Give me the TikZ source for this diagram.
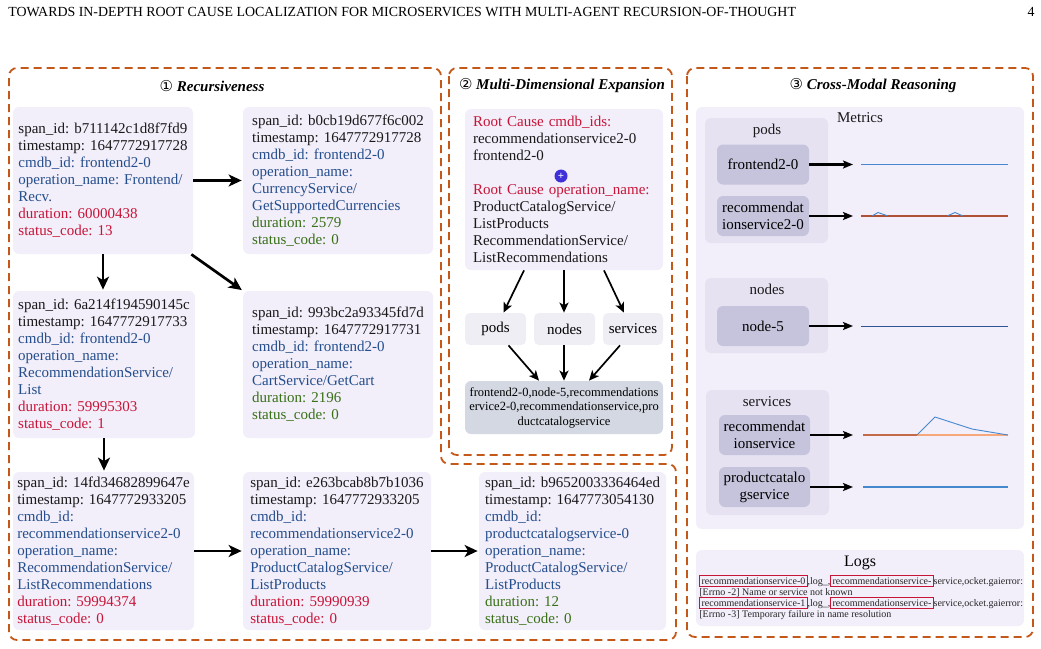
\documentclass[tikz,border=0pt]{standalone}
\usepackage{fontspec}
\setmainfont{Liberation Serif}
\newfontfamily\circfont{DejaVu Sans}
\usetikzlibrary{arrows.meta,positioning,calc}
\tikzset{every picture/.style={line width=0.75pt}}

\definecolor{boxfill}{RGB}{242,238,250}
\definecolor{panelline}{RGB}{196,88,24}
\definecolor{txtblue}{RGB}{36,78,140}
\definecolor{txtred}{RGB}{200,20,55}
\definecolor{txtgreen}{RGB}{56,112,22}
\definecolor{groupfill}{RGB}{230,226,242}
\definecolor{itemfill}{RGB}{198,196,220}
\definecolor{resultfill}{RGB}{212,216,226}
\definecolor{dimfill}{RGB}{238,238,244}
\definecolor{plusblue}{RGB}{64,48,216}
\definecolor{plotblue}{RGB}{70,136,205}
\definecolor{plotorange}{RGB}{246,168,122}
\definecolor{plotbrown}{RGB}{176,80,50}
\definecolor{plotnavy}{RGB}{46,84,150}

\newcommand{\logmark}[1]{{\color{txtred}\fboxsep=1.4pt\fboxrule=0.8pt\fbox{\color{black!85}#1}}}

\tikzset{
  panel/.style={draw=panelline, line width=1.8pt, dash pattern=on 8pt off 5pt, rounded corners=8pt},
  paneltitle/.style={font=\fontsize{15}{17}\selectfont\bfseries\itshape},
  spanbox/.style={fill=boxfill, rounded corners=6pt, align=left, inner sep=0pt,
    text=black!90, font=\fontsize{15}{17}\selectfont},
  dimbox/.style={fill=dimfill, rounded corners=5pt, minimum height=32pt, inner sep=0pt,
    font=\fontsize{15}{17}\selectfont},
  groupbox/.style={fill=groupfill, rounded corners=6pt},
  itembox/.style={fill=itemfill, rounded corners=6pt, align=center, inner sep=0pt,
    minimum width=92pt, minimum height=40pt, font=\fontsize{15}{17}\selectfont},
  label/.style={font=\fontsize{15}{17}\selectfont, text=black!90},
  spanarrow/.style={-{Stealth[length=13pt,width=12pt,inset=3.5pt]}, line width=2.7pt, shorten >=1pt},
  dimarrow/.style={-{Stealth[length=10pt,width=9pt,inset=2.5pt]}, line width=1.7pt},
  metricarrow/.style={-{Stealth[length=10pt,width=8pt,inset=2pt]}, line width=2.1pt}
}

\begin{document}
\begin{tikzpicture}[x=1pt,y=-1pt]
    \useasboundingbox (0,0) rectangle (1041,648);

    % page header
    \node[anchor=west, inner sep=0pt, font=\fontsize{13.9}{15}\selectfont] (header) at (8,12)
        {TOWARDS IN-DEPTH ROOT CAUSE LOCALIZATION FOR MICROSERVICES WITH MULTI-AGENT RECURSION-OF-THOUGHT};
    \node[inner sep=0pt, font=\fontsize{13.9}{15}\selectfont] (pagenum) at (1031,12) {4};

    % dashed panels
    \draw[panel] (9,640) -- (9,68) -- (441,68) -- (441,464) -- (676,464) -- (676,640) -- cycle;
    \draw[panel] (449,68) rectangle (672,455);
    \draw[panel] (687,68) rectangle (1033,637);

    \node[paneltitle] (title1) at (212,86) {{\circfont\mdseries\upshape ①} Recursiveness};
    \node[paneltitle] (title2) at (562,86) {{\circfont\mdseries\upshape ②} Multi-Dimensional Expansion};
    \node[paneltitle] (title3) at (873,86) {{\circfont\mdseries\upshape ③} Cross-Modal Reasoning};

    % ---- Recursiveness: spans ----
    \node[spanbox, minimum width=180pt, minimum height=147pt] (spanA) at (103,180.5) {
        span\_id: b711142c1d8f7fd9\\
        timestamp: 1647772917728\\
        \textcolor{txtblue}{cmdb\_id: frontend2-0}\\
        \textcolor{txtblue}{operation\_name: Frontend/}\\
        \textcolor{txtblue}{Recv.}\\
        \textcolor{txtred}{duration: 60000438}\\
        \textcolor{txtred}{status\_code: 13}};
    \node[spanbox, minimum width=190pt, minimum height=147pt] (spanB) at (338,180.5) {
        span\_id: b0cb19d677f6c002\\
        timestamp: 1647772917728\\
        \textcolor{txtblue}{cmdb\_id: frontend2-0}\\
        \textcolor{txtblue}{operation\_name:}\\
        \textcolor{txtblue}{CurrencyService/}\\
        \textcolor{txtblue}{GetSupportedCurrencies}\\
        \textcolor{txtgreen}{duration: 2579}\\
        \textcolor{txtgreen}{status\_code: 0}};
    \node[spanbox, minimum width=182pt, minimum height=147pt] (spanC) at (104,364.5) {
        span\_id: 6a214f194590145c\\
        timestamp: 1647772917733\\
        \textcolor{txtblue}{cmdb\_id: frontend2-0}\\
        \textcolor{txtblue}{operation\_name:}\\
        \textcolor{txtblue}{RecommendationService/}\\
        \textcolor{txtblue}{List}\\
        \textcolor{txtred}{duration: 59995303}\\
        \textcolor{txtred}{status\_code: 1}};
    \node[spanbox, minimum width=190pt, minimum height=147pt] (spanD) at (338,364.5) {
        span\_id: 993bc2a93345fd7d\\
        timestamp: 1647772917731\\
        \textcolor{txtblue}{cmdb\_id: frontend2-0}\\
        \textcolor{txtblue}{operation\_name:}\\
        \textcolor{txtblue}{CartService/GetCart}\\
        \textcolor{txtgreen}{duration: 2196}\\
        \textcolor{txtgreen}{status\_code: 0}};
    \node[spanbox, minimum width=181pt, minimum height=158pt] (spanE) at (103.5,551) {
        span\_id: 14fd34682899647e\\
        timestamp: 1647772933205\\
        \textcolor{txtblue}{cmdb\_id:}\\
        \textcolor{txtblue}{recommendationservice2-0}\\
        \textcolor{txtblue}{operation\_name:}\\
        \textcolor{txtblue}{RecommendationService/}\\
        \textcolor{txtblue}{ListRecommendations}\\
        \textcolor{txtred}{duration: 59994374}\\
        \textcolor{txtred}{status\_code: 0}};
    \node[spanbox, minimum width=188pt, minimum height=158pt] (spanF) at (337,551) {
        span\_id: e263bcab8b7b1036\\
        timestamp: 1647772933205\\
        \textcolor{txtblue}{cmdb\_id:}\\
        \textcolor{txtblue}{recommendationservice2-0}\\
        \textcolor{txtblue}{operation\_name:}\\
        \textcolor{txtblue}{ProductCatalogService/}\\
        \textcolor{txtblue}{ListProducts}\\
        \textcolor{txtred}{duration: 59990939}\\
        \textcolor{txtred}{status\_code: 0}};
    \node[spanbox, minimum width=187pt, minimum height=158pt] (spanG) at (572.5,551) {
        span\_id: b9652003336464ed\\
        timestamp: 1647773054130\\
        \textcolor{txtblue}{cmdb\_id:}\\
        \textcolor{txtblue}{productcatalogservice-0}\\
        \textcolor{txtblue}{operation\_name:}\\
        \textcolor{txtblue}{ProductCatalogService/}\\
        \textcolor{txtblue}{ListProducts}\\
        \textcolor{txtgreen}{duration: 12}\\
        \textcolor{txtgreen}{status\_code: 0}};

    \draw[spanarrow] (spanA.east) -- (spanB.west);
    \draw[spanarrow] (spanA.south) -- (spanA.south |- spanC.north);
    \draw[spanarrow] ([xshift=-2pt]spanA.south east) -- (spanD.north west);
    \draw[spanarrow] (spanC.south) -- (spanC.south |- spanE.north);
    \draw[spanarrow] (spanE.east) -- (spanF.west);
    \draw[spanarrow] (spanF.east) -- (spanG.west);

    % ---- Multi-Dimensional Expansion ----
    \node[spanbox, minimum width=198pt, minimum height=161pt, text width=182pt] (root) at (564,189.5) {
        \textcolor{txtred}{Root Cause cmdb\_ids:}\\
        recommendationservice2-0\\
        frontend2-0\\[17pt]
        \textcolor{txtred}{Root Cause operation\_name:}\\
        ProductCatalogService/\\
        ListProducts\\
        RecommendationService/\\
        ListRecommendations};
    \node[circle, fill=plusblue, minimum size=13pt, inner sep=0pt, text=white,
          font=\fontsize{11}{11}\selectfont\bfseries] (plus) at (561,176) {+};

    \node[dimbox, minimum width=61pt] (pods) at (495.5,329) {pods};
    \node[dimbox, minimum width=61pt] (nodes) at (564.5,329) {nodes};
    \node[dimbox, minimum width=60pt] (services) at (633,329) {services};
    \node[fill=resultfill, rounded corners=6pt, minimum width=198pt, minimum height=53pt, inner sep=0pt,
          align=center, font=\fontsize{12.5}{14.5}\selectfont] (result) at (564,407.5)
        {frontend2-0,node-5,recommendations\\ervice2-0,recommendationservice,pro\\ductcatalogservice};

    \draw[dimarrow] ([xshift=-40pt]root.south) -- ([xshift=8pt]pods.north);
    \draw[dimarrow] (root.south) -- (root.south |- nodes.north);
    \draw[dimarrow] ([xshift=40pt]root.south) -- ([xshift=-9pt]services.north);
    \draw[dimarrow] ([xshift=13pt]pods.south) -- ([xshift=-25pt]result.north);
    \draw[dimarrow] (nodes.south -| result.north) -- (result.north);
    \draw[dimarrow] ([xshift=-13pt]services.south) -- ([xshift=25pt]result.north);

    % ---- Cross-Modal Reasoning ----
    \fill[boxfill, rounded corners=6pt] (696,107) rectangle (1024,529);
    \node[label] (metrics) at (860,118) {Metrics};

    \fill[groupfill, rounded corners=6pt] (705,118) rectangle (828,243);
    \node[label] (podsgrp) at (767,131) {pods};
    \fill[groupfill, rounded corners=6pt] (705,278) rectangle (828,353);
    \node[label] (nodesgrp) at (767,289) {nodes};
    \fill[groupfill, rounded corners=6pt] (706,390) rectangle (829,515);
    \node[label] (svcgrp) at (767,402) {services};

    \node[itembox] (fe) at (763,164.5) {frontend2-0};
    \node[itembox] (rec2) at (763,216) {recommendat\\ionservice2-0};
    \node[itembox] (node5) at (763,326) {node-5};
    \node[itembox, minimum width=91pt] (recsvc) at (764.5,435) {recommendat\\ionservice};
    \node[itembox, minimum width=91pt] (pcs) at (764.5,487) {productcatalo\\gservice};

    \coordinate (fe-plot) at (853,164.5);
    \coordinate (rec2-plot) at (853,216);
    \coordinate (node5-plot) at (853,326);
    \coordinate (recsvc-plot) at (853,435);
    \coordinate (pcs-plot) at (853,487);
    \draw[metricarrow] (fe) -- (fe-plot);
    \draw[metricarrow] (rec2) -- (rec2-plot);
    \draw[metricarrow] (node5) -- (node5-plot);
    \draw[metricarrow] (recsvc) -- (recsvc-plot);
    \draw[metricarrow] (pcs) -- (pcs-plot);

    % metric curves
    \draw[plotblue, line width=1pt] (861,164.5) -- (1008,164.5);
    \draw[plotorange, line width=1.6pt] (861,216) -- (1008,216);
    \draw[plotbrown, line width=1.1pt] (861,216) -- (1008,216);
    \draw[plotblue, line width=0.9pt] (872,216) -- (878,212.5) -- (888,216);
    \draw[plotblue, line width=0.9pt] (947,216) -- (955,212.5) -- (963,216);
    \draw[plotnavy, line width=1pt] (861,326) -- (1008,326);
    \draw[plotorange, line width=1.5pt] (863,435) -- (1008,435);
    \draw[plotbrown!70!plotorange, line width=1.3pt] (863,435) -- (917,435);
    \draw[plotblue, line width=0.9pt] (917,435) -- (935,417) -- (972,429) -- (1008,435);
    \draw[plotblue, line width=1.3pt] (863,487) -- (1008,487);

    % logs
    \fill[boxfill, rounded corners=6pt] (696,550) rectangle (1024,626);
    \node[font=\fontsize{16}{18}\selectfont] (logs) at (860,563) {Logs};
    \node[anchor=north west, inner sep=0pt, align=left, text=black!85,
          font=\fontsize{10}{11}\selectfont] (logtext) at (699,575) {
        \logmark{recommendationservice-0},log\_,\logmark{recommendationservice-}service,ocket.gaierror:\\
        {[Errno -2]} Name or service not known\\
        \logmark{recommendationservice-1},log\_,\logmark{recommendationservice-}service,ocket.gaierror:\\
        {[Errno -3]} Temporary failure in name resolution};
\end{tikzpicture}
\end{document}
